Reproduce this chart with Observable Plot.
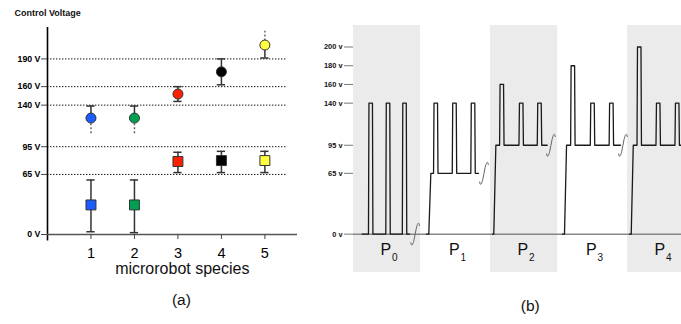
<!DOCTYPE html>
<html><head><meta charset="utf-8">
<script src="https://cdn.jsdelivr.net/npm/d3@7"></script>
<script src="https://cdn.jsdelivr.net/npm/@observablehq/plot@0.6"></script>
<style>
html,body{margin:0;padding:0;background:#fff;overflow:hidden;}
#wrap{display:flex;width:681px;height:324px;}
#wrap svg{display:block;flex:none;}
</style></head><body><div id="wrap"></div>
<script>
// ---------- Panel (a) data ----------
const species = [1, 2, 3, 4, 5];
const speciesColors = ["#1a5cff", "#00a050", "#ff2000", "#000000", "#ffff40"];
const highMean = [126, 126, 152, 176, 205];
const highLow = [109, 109, 144, 162, 191];
const highHigh = [139, 139, 160, 190, 220];
const highLowDotted = [true, true, false, false, false];
const highHighDotted = [false, false, false, false, true];
const lowMean = [32, 32, 79, 80, 80];
const lowLow = [3, 2, 67, 67, 67];
const lowHigh = [59, 59, 89, 90, 90];
const voltTicksA = [0, 65, 95, 140, 160, 190];
const gridLevelsA = [65, 95, 140, 160, 190];
const xLabelA = "microrobot species";
const titleA = "Control Voltage";

// ---------- Panel (b) data ----------
const periods = ["0", "1", "2", "3", "4"];
const shadedPeriods = [0, 2, 4];
const baseLevel = [0, 65, 95, 95, 95];
const pulseHeights = [[140, 140, 140], [140, 140, 140], [160, 140, 140], [180, 140, 140], [200, 140, 140]];
const pulseTimes = [[0.251, 0.504, 0.745], [0.201, 0.474, 0.745], [0.165, 0.448, 0.715], [0.202, 0.489, 0.764], [0.171, 0.448, 0.725]];
const traceStart = [0.127, 0.066, 0.029, 0.051, 0.030];
const riseTime = [null, 0.099, 0.048, 0.080, 0.054];
const traceEnd = [0.818, 0.826, 0.828, 0.898, 1.0];
const breakTime = [0.900, 0.905, 0.882, 0.933, null];
const voltTicksB = [0, 65, 95, 140, 160, 180, 200];

const font = "'Liberation Sans', Arial, Helvetica, sans-serif";

// ---------- Build panel (a) ----------
const high = species.map((s, i) => ({x: s, y: highMean[i], color: speciesColors[i]}));
const low = species.map((s, i) => ({x: s, y: lowMean[i], color: speciesColors[i]}));
const segs = [], caps = [];
species.forEach((s, i) => {
  segs.push({x: s, y1: highMean[i], y2: highHigh[i], dotted: highHighDotted[i]});
  segs.push({x: s, y1: highLow[i], y2: highMean[i], dotted: highLowDotted[i]});
  if (!highHighDotted[i]) caps.push({x: s, y: highHigh[i]});
  if (!highLowDotted[i]) caps.push({x: s, y: highLow[i]});
  segs.push({x: s, y1: lowLow[i], y2: lowHigh[i], dotted: false});
  caps.push({x: s, y: lowHigh[i]});
  caps.push({x: s, y: lowLow[i]});
});

const plotA = Plot.plot({
  width: 300, height: 324,
  marginLeft: 47, marginRight: 3, marginTop: 27, marginBottom: 90,
  style: {fontFamily: font, background: "white", overflow: "visible"},
  x: {domain: [0, 5.75], axis: null},
  y: {domain: [0, 224], axis: null},
  color: {type: "identity"},
  marks: [
    Plot.ruleY(gridLevelsA, {x1: 0, x2: 5.52, stroke: "#111", strokeWidth: 1, strokeDasharray: "1.4,1.6"}),
    Plot.ruleX([0], {y1: -7, y2: 224, stroke: "#000", strokeWidth: 1.6}),
    Plot.ruleY([0], {stroke: "#555", strokeWidth: 1.6}),
    Plot.axisY({ticks: voltTicksA, tickFormat: d => d + " V", tickSize: 6, tickPadding: 1,
      fontSize: 8.8, fontWeight: "bold", stroke: "#444", label: null}),
    Plot.axisX({ticks: species, tickFormat: d => String(d), tickSize: 5, tickPadding: 8,
      fontSize: 14.5, stroke: "#444", label: null}),
    Plot.ruleX(segs.filter(d => !d.dotted), {x: "x", y1: "y1", y2: "y2", stroke: "#333", strokeWidth: 1.5}),
    Plot.ruleX(segs.filter(d => d.dotted), {x: "x", y1: "y1", y2: "y2", stroke: "#666", strokeWidth: 1.5, strokeDasharray: "2,2"}),
    Plot.ruleY(caps, {y: "y", x1: d => d.x - 0.095, x2: d => d.x + 0.095, stroke: "#333", strokeWidth: 1.5}),
    Plot.dot(high, {x: "x", y: "y", r: 5, fill: "color", stroke: "#333", strokeWidth: 1}),
    Plot.dot(low, {x: "x", y: "y", r: 5.6, symbol: "square", fill: "color", stroke: "#333", strokeWidth: 1}),
    Plot.text([titleA], {frameAnchor: "top-left", dx: -33, dy: -18, textAnchor: "start",
      fontWeight: "bold", fontSize: 9, fill: "#111"}),
    Plot.text([xLabelA], {x: () => 3.1, frameAnchor: "bottom", dy: 39, fontSize: 16, fill: "#111"}),
    Plot.text(["(a)"], {x: () => 3.08, frameAnchor: "bottom", dy: 70, fontSize: 15.5, fill: "#111"})
  ]
});

// ---------- Build panel (b) ----------
const W = 0.0255, SL = 0.007, RISE = 0.03;
const trace = [];
periods.forEach((p, i) => {
  const b = baseLevel[i];
  trace.push({s: i, t: i + traceStart[i], v: 0});
  if (riseTime[i] != null) {
    trace.push({s: i, t: i + riseTime[i], v: 0});
    trace.push({s: i, t: i + riseTime[i] + RISE, v: b});
  }
  pulseTimes[i].forEach((c, k) => {
    const h = pulseHeights[i][k];
    trace.push({s: i, t: i + c - W - SL, v: b});
    trace.push({s: i, t: i + c - W, v: h});
    trace.push({s: i, t: i + c + W, v: h});
    trace.push({s: i, t: i + c + W + SL, v: b});
  });
  trace.push({s: i, t: i + traceEnd[i], v: b});
});
// break-mark glyph shape (px offsets), converted through the panel's unit sizes
const PXT = 1 / 68.5, PXV = 1 / 0.937;
const glyph = [[3.6, -8.6], [3.0, -10.6], [1.8, -10.4], [0.7, -6], [0, 0], [-0.7, 6], [-1.8, 10.4], [-3.0, 10.6], [-3.6, 8.6]];
const breaks = [];
periods.forEach((p, i) => {
  if (breakTime[i] == null) return;
  glyph.forEach(([dx, dy]) => breaks.push({s: i, t: i + breakTime[i] + (dx - dy * 0.08) * PXT, v: baseLevel[i] - dy * PXV}));
});

const plotB = Plot.plot({
  width: 381, height: 324,
  marginLeft: 53, marginRight: 0, marginTop: 25, marginBottom: 52,
  style: {fontFamily: font, background: "white"},
  x: {domain: [0, 4.788], axis: null},
  y: {domain: [-41, 223], axis: null},
  marks: [
    Plot.rect(shadedPeriods, {x1: d => d, x2: d => d + 0.98, fill: "#ebebeb", clip: true}),
    Plot.ruleY([0], {stroke: "#888", strokeWidth: 1.5}),
    Plot.axisY({ticks: voltTicksB, tickFormat: d => d + " v", tickSize: 9, tickPadding: 2,
      fontSize: 7.4, fontWeight: "bold", stroke: "#777", fill: "#111", label: null}),
    Plot.line(trace, {x: "t", y: "v", z: "s", stroke: "#1a1a1a", strokeWidth: 1.3, clip: true}),
    Plot.line(breaks, {x: "t", y: "v", z: "s", curve: "natural", stroke: "#666", strokeWidth: 1}),
    Plot.text(periods, {x: (d, i) => i + 0.5, text: () => "P", frameAnchor: "bottom", dy: -18, dx: -2, fontSize: 16, fill: "#111"}),
    Plot.text(periods, {x: (d, i) => i + 0.5, text: d => d, frameAnchor: "bottom", dy: -12, dx: 7, fontSize: 10, fill: "#111"}),
    Plot.text(["(b)"], {x: () => 2.58, frameAnchor: "bottom", dy: 38, fontSize: 15.5, fill: "#111"})
  ]
});

const wrap = document.getElementById("wrap");
wrap.appendChild(plotA);
wrap.appendChild(plotB);
</script></body></html>
